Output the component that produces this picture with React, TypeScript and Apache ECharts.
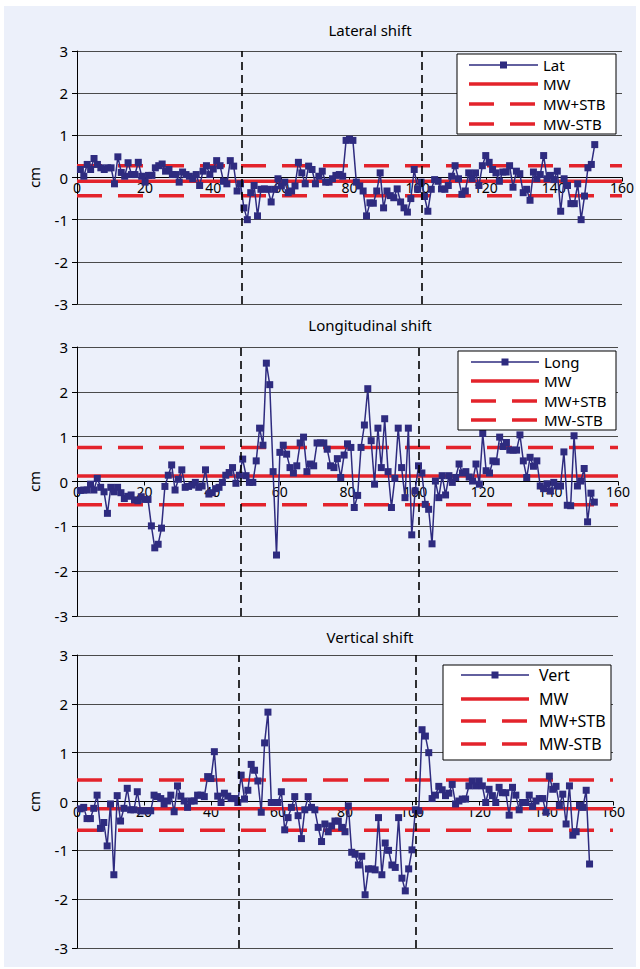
import React, { useEffect, useRef } from "react";
import * as echarts from "echarts";

// ---------------- data ----------------
const panelTitles = ["Lateral shift", "Longitudinal shift", "Vertical shift"];
const seriesNames = ["Lat", "Long", "Vert"];
const refNames = ["MW", "MW+STB", "MW-STB"];
const xTickValues = [0, 20, 40, 60, 80, 100, 120, 140, 160];
const yTickValues = [-3, -2, -1, 0, 1, 2, 3];

const latValues = [
  0.19, 0.03, 0.31, 0.19, 0.45, 0.31, 0.23, 0.19, 0.23, 0.23,
  -0.15, 0.49, 0.12, 0.03, 0.35, 0.07, 0.07, 0.36, 0.03, -0.11,
  0.05, 0.05, 0.23, 0.28, 0.32, 0.15, 0.19, 0.07, 0.07, -0.11,
  0.13, 0.07, 0.03, -0.03, 0.07, -0.19, 0.15, 0.28, 0.07, 0.2,
  0.4, 0.28, -0.09, -0.15, 0.4, 0.27, -0.32, -0.15, -0.72, -1.0,
  -0.36, -0.19, -0.91, -0.28, -0.27, -0.28, -0.58, -0.28, -0.03, -0.2,
  -0.11, -0.36, -0.32, -0.2, 0.36, 0.11, -0.15, 0.27, 0.19, -0.15,
  0.03, 0.15, -0.11, -0.11, -0.03, 0.05, 0.07, 0.03, 0.88, 0.91,
  0.88, -0.11, -0.2, -0.32, -0.91, -0.6, -0.61, -0.32, 0.11, -0.72,
  -0.32, -0.43, -0.48, -0.27, -0.58, -0.72, -0.82, -0.5, 0.19, -0.28,
  -0.11, -0.45, -0.8, -0.28, -0.05, -0.09, -0.27, -0.28, -0.19, 0.03,
  0.28, -0.03, -0.4, -0.32, 0.11, -0.03, 0.11, -0.19, 0.28, 0.52,
  0.36, 0.19, 0.11, -0.09, 0.13, 0.13, 0.28, -0.23, 0.15, 0.09,
  -0.36, -0.28, -0.54, 0.13, -0.03, 0.07, 0.52, -0.03, 0.05, -0.05,
  0.15, -0.8, -0.03, -0.19, -0.62, -0.62, -0.15, -1.0, -0.44, 0.23,
  0.31, 0.78,
];

const longValues = [
  -0.2, -0.19, -0.19, -0.06, -0.19, 0.07, -0.13, -0.23, -0.71, -0.13,
  -0.23, -0.13, -0.25, -0.38, -0.33, -0.3, -0.41, -0.43, -0.34, -0.4,
  -0.4, -0.99, -1.48, -1.4, -1.04, -0.11, 0.14, 0.37, -0.19, 0.05,
  0.26, -0.13, -0.11, -0.08, -0.02, -0.13, -0.1, 0.26, -0.28, -0.25,
  -0.16, -0.13, -0.02, 0.14, 0.2, 0.31, -0.04, 0.14, 0.5, 0.13,
  -0.02, -0.02, 0.46, 1.19, 0.81, 2.64, 2.16, 0.22, -1.64, 0.65,
  0.81, 0.61, 0.31, 0.19, 0.35, 0.86, 0.99, 0.22, 0.39, 0.35,
  0.86, 0.86, 0.86, 0.72, 0.35, 0.31, 0.51, 0.09, 0.59, 0.84,
  0.76, -0.58, -0.31, 0.76, 1.26, 2.07, 0.91, -0.06, 1.19, 0.31,
  1.4, 0.22, -0.58, 0.07, 1.19, 0.31, -0.36, 1.19, -1.19, -0.21,
  0.35, 0.19, -0.51, -0.62, -1.39, 0.01, -0.36, 0.13, -0.3, 0.13,
  -0.02, 0.09, 0.39, 0.19, 0.22, 0.1, 0.01, 0.39, -0.06, 1.07,
  0.24, 0.19, 0.46, 0.44, 0.99, 0.78, 0.87, 0.7, 0.7, 0.7,
  1.04, 0.46, 0.09, 0.54, 0.34, 0.46, -0.1, -0.16, -0.05, -0.21,
  -0.02, -0.1, -0.1, 0.66, -0.53, -0.54, 1.02, -0.1, 0.01, 0.29,
  -0.9, -0.26, -0.46,
];

const vertValues = [
  -0.15, -0.12, -0.35, -0.35, -0.14, 0.13, -0.55, -0.43, -0.91, -0.05,
  -1.5, 0.12, -0.4, -0.14, 0.27, -0.17, -0.17, 0.2, -0.19, -0.19,
  -0.19, -0.19, 0.13, 0.1, 0.06, -0.05, 0.01, 0.13, -0.21, 0.32,
  0.11, 0.01, -0.12, 0.01, 0.01, 0.13, 0.13, 0.1, 0.51, 0.47,
  1.02, 0.11, -0.02, 0.17, 0.11, 0.06, 0.06, -0.02, 0.54, 0.05,
  0.23, 0.76, 0.64, 0.42, -0.22, 1.2, 1.83, -0.02, -0.02, -0.02,
  0.2, -0.58, -0.33, -0.12, 0.1, -0.29, -0.76, -0.17, 0.1, -0.12,
  -0.17, -0.53, -0.82, -0.46, -0.62, -0.5, -0.4, -0.4, -0.53, -0.62,
  -0.09, -1.04, -1.08, -1.3, -1.12, -1.91, -1.38, -1.38, -1.4, -0.33,
  -1.5, -0.85, -1.0, -1.3, -1.35, -0.33, -1.57, -1.83, -1.38, -0.99,
  -0.17, -0.19, 1.47, 1.34, 1.0, 0.06, 0.13, 0.31, 0.24, 0.12,
  0.17, 0.35, -0.05, 0.01, 0.05, 0.05, 0.32, 0.42, 0.32, 0.42,
  0.32, -0.02, 0.25, 0.12, -0.02, 0.29, 0.18, 0.18, -0.28, 0.29,
  0.13, -0.17, -0.02, -0.02, 0.13, -0.1, 0.01, 0.06, 0.06, -0.22,
  0.52, 0.25, 0.31, -0.08, 0.15, -0.46, 0.32, -0.69, -0.62, -0.08,
  -0.12, 0.23, -1.28,
];

const mwValues = [-0.09, 0.12, -0.15];
const mwPlusStbValues = [0.28, 0.76, 0.44];
const mwMinusStbValues = [-0.43, -0.52, -0.59];
const phaseBoundaries = [48.4, 101.2];

// ---------------- styling / layout ----------------
const RED = "#E3232B";
const NAVY = "#2E2B7F";
const FONT = "'Noto Sans', 'Open Sans', sans-serif";

const gridBoxes = [
  { left: 77, top: 51, width: 545, height: 253 },
  { left: 77, top: 347, width: 541, height: 269 },
  { left: 77, top: 655, width: 536, height: 293 },
];
const titleYs = [30, 325, 637];
const legendBoxes = [
  { x: 457, y: 54, w: 159, h: 80, rows: [65, 84, 104, 124], x1: 469, x2: 538, tx: 543, fs: 15 },
  { x: 458, y: 351, w: 158, h: 79, rows: [362, 381, 401, 420], x1: 471, x2: 539, tx: 544, fs: 15 },
  { x: 443, y: 665, w: 168, h: 95, rows: [675, 699, 721, 744], x1: 461, x2: 529, tx: 539, fs: 16 },
];

const allValues = [latValues, longValues, vertValues];

function legendElements(p: number): any[] {
  const b = legendBoxes[p];
  const els: any[] = [];
  els.push({
    type: "rect",
    z: 100,
    shape: { x: b.x, y: b.y, width: b.w, height: b.h },
    style: { fill: "#ffffff", stroke: "#000000", lineWidth: 1 },
  });
  const labels = [seriesNames[p], ...refNames];
  labels.forEach((lab, i) => {
    const y = b.rows[i];
    if (i === 0) {
      els.push({
        type: "line",
        z: 101,
        shape: { x1: b.x1, y1: y, x2: b.x2, y2: y },
        style: { stroke: NAVY, lineWidth: 1.5 },
      });
      const cx = (b.x1 + b.x2) / 2;
      els.push({
        type: "rect",
        z: 102,
        shape: { x: cx - 3.5, y: y - 3.5, width: 7, height: 7 },
        style: { fill: NAVY },
      });
    } else {
      els.push({
        type: "line",
        z: 101,
        shape: { x1: b.x1, y1: y, x2: b.x2, y2: y },
        style: {
          stroke: RED,
          lineWidth: 3.5,
          lineDash: i === 1 ? null : [25, 16],
        },
      });
    }
    els.push({
      type: "text",
      z: 102,
      x: b.tx,
      y: y,
      style: {
        text: lab,
        fill: "#000",
        font: `${b.fs}px ${FONT}`,
        verticalAlign: "middle",
        align: "left",
      },
    });
  });
  return els;
}

export default function App() {
  const ref = useRef<HTMLDivElement>(null);

  useEffect(() => {
    document.body.style.margin = "0";
    if (!ref.current) return;
    const chart = echarts.init(ref.current, null, { renderer: "svg" });

    const grid = gridBoxes.map((g) => ({ ...g, containLabel: false, outerBoundsMode: "none" }));

    const yMin = yTickValues[0];
    const yMax = yTickValues[yTickValues.length - 1];

    const xAxis = gridBoxes.map((g, p) => ({
      type: "value",
      gridIndex: p,
      position: "bottom",
      // place the axis on the y = 0 line
      offset: -g.height * ((0 - yMin) / (yMax - yMin)),
      min: xTickValues[0],
      max: xTickValues[xTickValues.length - 1],
      interval: 20,
      axisLine: { show: true, onZero: false, lineStyle: { color: "#000", width: 1 } },
      axisTick: { show: true, length: 4, lineStyle: { color: "#000" } },
      axisLabel: { color: "#000", fontSize: 14, fontFamily: FONT, margin: 3 },
      splitLine: { show: false },
    }));

    const yAxis = gridBoxes.map((_, p) => ({
      type: "value",
      gridIndex: p,
      min: yMin,
      max: yMax,
      interval: 1,
      name: "cm",
      nameLocation: "middle",
      nameRotate: 90,
      nameGap: 36,
      nameTextStyle: { color: "#000", fontSize: 15, fontFamily: FONT },
      axisLine: { show: true, onZero: false, lineStyle: { color: "#000", width: 1 } },
      axisTick: { show: true, length: 5, lineStyle: { color: "#000" } },
      axisLabel: { color: "#000", fontSize: 15, fontFamily: FONT, margin: 9 },
      splitLine: { show: true, lineStyle: { color: "#4a4a4a", width: 1 } },
    }));

    const series: any[] = [];
    gridBoxes.forEach((_, p) => {
      const xmin = xTickValues[0];
      const xmax = xTickValues[xTickValues.length - 1];
      const refs = [mwValues[p], mwPlusStbValues[p], mwMinusStbValues[p]];
      refs.forEach((v, k) => {
        series.push({
          type: "line",
          name: refNames[k],
          xAxisIndex: p,
          yAxisIndex: p,
          data: [
            [xmin, v],
            [xmax, v],
          ],
          symbol: "none",
          silent: true,
          z: 2,
          lineStyle: { color: RED, width: 3.5, type: k === 0 ? "solid" : [25, 16] },
        });
      });
      series.push({
        type: "line",
        name: seriesNames[p],
        xAxisIndex: p,
        yAxisIndex: p,
        data: allValues[p].map((v, i) => [i + 1, v]),
        symbol: "rect",
        symbolSize: 7,
        z: 4,
        lineStyle: { color: NAVY, width: 1.5 },
        itemStyle: { color: NAVY },
        markLine: {
          silent: true,
          symbol: ["none", "none"],
          label: { show: false },
          lineStyle: { color: "#000", type: [8, 5], width: 1.6 },
          data: phaseBoundaries.map((b) => ({ xAxis: b })),
        },
      });
    });

    const graphic: any[] = [];
    panelTitles.forEach((t, p) => {
      graphic.push({
        type: "text",
        x: 370,
        y: titleYs[p],
        z: 50,
        style: {
          text: t,
          fill: "#000",
          font: `15px ${FONT}`,
          align: "center",
          verticalAlign: "middle",
        },
      });
      graphic.push(...legendElements(p));
    });

    chart.setOption({
      animation: false,
      grid,
      xAxis,
      yAxis,
      series,
      graphic,
    });

    return () => {
      chart.dispose();
    };
  }, []);

  return (
    <div style={{ position: "relative", width: 640, height: 969, background: "#ffffff", overflow: "hidden" }}>
      <div
        style={{
          position: "absolute",
          left: 4,
          top: 6,
          width: 632,
          height: 961,
          background: "#ECF0FA",
        }}
      />
      <div ref={ref} style={{ position: "absolute", left: 0, top: 0, width: 640, height: 969 }} />
    </div>
  );
}
